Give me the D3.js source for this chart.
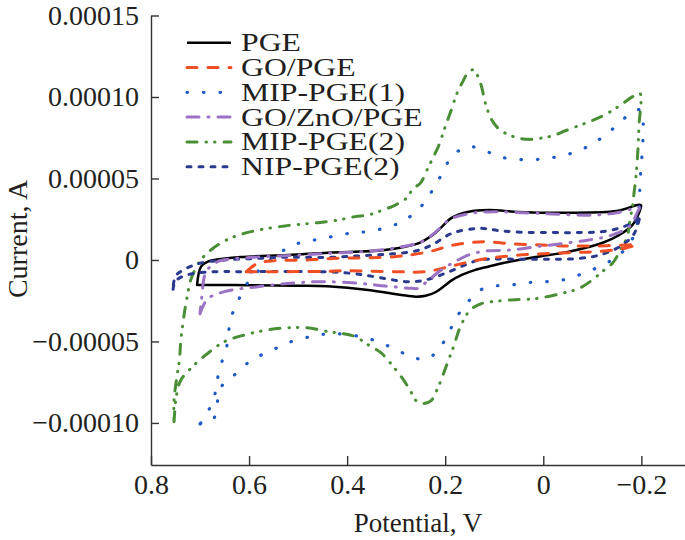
<!DOCTYPE html>
<html>
<head>
<meta charset="utf-8">
<script src="https://cdn.jsdelivr.net/npm/d3@7"></script>
<style>
  body { margin: 0; background: #fff; }
  text { font-family: "Liberation Serif", "Times New Roman", serif; fill: #231f20; }
</style>
</head>
<body>
<script>
// Data (potential in V, current in units of 1e-5 A), each loop: forward branch then back
var names = ["PGE", "GO/PGE", "MIP-PGE(1)", "GO/ZnO/PGE", "MIP-PGE(2)", "NIP-PGE(2)"];

var xTicks = [0.8, 0.6, 0.4, 0.2, 0, -0.2];
var xTickLabels = ["0.8", "0.6", "0.4", "0.2", "0", "\u22120.2"];
var yTicks = [-10, -5, 0, 5, 10, 15];
var yTickLabels = ["\u22120.00010", "\u22120.00005", "0", "0.00005", "0.00010", "0.00015"];

var pge = [
  [0.706, -1.53], [0.65, -1.54], [0.6, -1.55], [0.5, -1.58], [0.44, -1.62], [0.357, -1.84],
  [0.289, -2.15], [0.26, -2.25], [0.24, -2.2], [0.22, -1.98], [0.2, -1.55], [0.187, -1.25],
  [0.165, -0.9], [0.14, -0.62], [0.111, -0.4], [0.084, -0.2], [0.016, 0.18], [-0.052, 0.51],
  [-0.12, 1.04], [-0.155, 1.53], [-0.182, 2.15], [-0.195, 2.88], [-0.199, 3.37],
  [-0.15, 3.0], [-0.05, 2.9], [0.05, 2.95], [0.111, 3.07], [0.152, 2.96], [0.187, 2.58],
  [0.22, 1.66], [0.255, 1.02], [0.323, 0.61], [0.439, 0.45], [0.521, 0.3], [0.617, 0.18],
  [0.684, -0.1], [0.698, -0.41], [0.706, -1.53]
];

var goPge = [
  [0.606, -0.72], [0.55, -0.72], [0.45, -0.7], [0.4, -0.66], [0.3, -0.72], [0.24, -0.72],
  [0.187, -0.37], [0.132, 0], [0.07, 0.25], [0.009, 0.37], [-0.052, 0.45], [-0.107, 0.51],
  [-0.167, 0.72], [-0.19, 0.95],
  [-0.171, 0.92], [-0.107, 0.86], [-0.048, 0.86], [0.003, 0.92], [0.06, 0.98], [0.122, 1.12],
  [0.183, 0.92], [0.234, 0.5], [0.303, 0.2], [0.42, 0.1], [0.486, 0], [0.547, -0.04],
  [0.582, -0.2], [0.606, -0.72]
];

var mip1 = [
  [0.70, -10.06], [0.674, -9.82], [0.657, -7.8], [0.63, -7.06], [0.603, -6.33], [0.575, -5.83],
  [0.545, -5.42], [0.514, -5.01], [0.476, -4.71], [0.446, -4.55], [0.412, -4.54], [0.374, -4.7],
  [0.337, -5.01], [0.299, -5.52], [0.261, -6.03], [0.234, -6.03], [0.207, -5.21], [0.19, -4.29],
  [0.176, -3.48], [0.156, -2.66], [0.128, -1.84], [0.098, -1.6], [0.064, -1.53], [0.03, -1.39],
  [-0.005, -1.33], [-0.039, -1.23], [-0.073, -0.92], [-0.107, -0.51], [-0.14, 0], [-0.165, 0.6],
  [-0.185, 1.5], [-0.193, 2.5], [-0.197, 4.5], [-0.198, 9.2],
  [-0.178, 9.0], [-0.151, 8.28], [-0.124, 7.61], [-0.097, 7.06], [-0.066, 6.64], [-0.032, 6.34],
  [0.002, 6.24], [0.019, 6.13], [0.054, 6.18], [0.091, 6.34], [0.122, 6.75], [0.154, 6.95],
  [0.187, 6.34], [0.204, 5.42], [0.221, 4.54], [0.241, 3.58], [0.265, 2.82], [0.292, 2.29],
  [0.326, 1.94], [0.36, 1.74], [0.394, 1.64], [0.432, 1.43], [0.466, 1.23], [0.5, 1.02],
  [0.534, 0.51], [0.579, -0.61], [0.606, -1.53], [0.623, -2.56], [0.637, -3.58], [0.647, -5.52],
  [0.66, -6.64], [0.674, -8.69], [0.70, -10.06]
];

var goZnO = [
  [0.70, -3.3], [0.685, -2.4], [0.65, -1.94], [0.582, -1.64], [0.515, -1.43], [0.453, -1.33],
  [0.377, -1.43], [0.322, -1.6], [0.269, -1.74], [0.255, -1.74], [0.234, -1.23], [0.208, -0.61],
  [0.18, -0.1], [0.152, 0.31], [0.118, 0.55], [0.068, 0.61], [0.013, 0.82], [-0.042, 1.02],
  [-0.093, 1.23], [-0.134, 1.47], [-0.175, 2.04], [-0.193, 3.0], [-0.196, 3.2],
  [-0.15, 2.9], [-0.1, 2.75], [0.0, 2.85], [0.11, 2.95], [0.15, 2.85], [0.19, 2.5],
  [0.22, 1.7], [0.25, 1.1], [0.3, 0.75], [0.35, 0.55], [0.44, 0.4], [0.5, 0.3], [0.6, 0.15],
  [0.66, -0.05], [0.674, -0.31], [0.688, -0.72], [0.697, -2.45], [0.70, -3.3]
];

var mip2 = [
  [0.753, -9.92], [0.748, -8.3], [0.739, -7.36], [0.715, -6.54], [0.684, -5.72], [0.65, -5.01],
  [0.609, -4.6], [0.562, -4.29], [0.514, -4.15], [0.473, -4.19], [0.439, -4.4], [0.412, -4.5],
  [0.384, -4.7], [0.357, -5.21], [0.33, -5.72], [0.306, -6.54], [0.285, -7.36], [0.272, -7.98],
  [0.255, -8.75], [0.231, -8.69], [0.214, -7.77], [0.197, -6.44], [0.183, -5.32], [0.169, -4.09],
  [0.149, -3.07], [0.125, -2.66], [0.105, -2.56], [0.064, -2.45], [0.016, -2.37], [-0.039, -2.04],
  [-0.073, -1.74], [-0.1, -1.23], [-0.12, -0.72], [-0.141, -0.2], [-0.161, 0.82], [-0.171, 1.43],
  [-0.178, 2.66], [-0.182, 3.27], [-0.185, 4.09], [-0.189, 5.11], [-0.193, 6.75], [-0.195, 8.18],
  [-0.197, 10.23],
  [-0.182, 10.02], [-0.158, 9.51], [-0.131, 9.0], [-0.103, 8.59], [-0.076, 8.28], [-0.045, 7.93],
  [-0.018, 7.61], [0.006, 7.47], [0.03, 7.4], [0.057, 7.53], [0.088, 7.98], [0.105, 8.59],
  [0.118, 9.61], [0.128, 10.84], [0.142, 11.66], [0.152, 11.55], [0.166, 10.84], [0.176, 10.23],
  [0.19, 9.0], [0.2, 8.18], [0.214, 6.95], [0.224, 6.34], [0.234, 5.72], [0.251, 4.7],
  [0.265, 4.4], [0.279, 3.79], [0.302, 3.37], [0.33, 3.03], [0.357, 2.76], [0.384, 2.66],
  [0.418, 2.45], [0.459, 2.29], [0.527, 2.09], [0.596, 1.74], [0.643, 1.27], [0.678, 0.61],
  [0.701, -0.1], [0.719, -1.23], [0.725, -2.04], [0.732, -3.27], [0.739, -4.91], [0.742, -6.13],
  [0.746, -6.93], [0.753, -8.59], [0.753, -9.92]
];

var nip2 = [
  [0.755, -1.8], [0.75, -1.3], [0.73, -0.95], [0.69, -0.75], [0.6, -0.72], [0.45, -0.72],
  [0.392, -0.82], [0.345, -1.02], [0.281, -1.33], [0.255, -1.3], [0.234, -1.18], [0.2, -0.82],
  [0.16, -0.31], [0.13, 0], [0.1, 0.05], [0.05, 0.05], [0.0, 0.05], [-0.05, 0.05],
  [-0.1, 0.2], [-0.13, 0.45], [-0.16, 0.9], [-0.185, 1.6], [-0.197, 2.76],
  [-0.19, 2.45], [-0.16, 2.0], [-0.12, 1.74], [-0.07, 1.68], [-0.02, 1.68], [0.04, 1.7],
  [0.09, 1.8], [0.13, 1.94], [0.186, 1.64], [0.227, 0.92], [0.258, 0.57], [0.31, 0.37],
  [0.377, 0.25], [0.445, 0.15], [0.52, 0.17], [0.58, 0.1], [0.65, 0], [0.7, -0.2],
  [0.73, -0.55], [0.75, -1.0], [0.755, -1.8]
];

var curves = [pge, goPge, mip1, goZnO, mip2, nip2];

// Styles (round caps add about one stroke width to every dash)
var colors = ["#000000", "#f04e23", "#1f5bc4", "#9b72c4", "#4a8f35", "#2b3a8f"];
var dashes = ["none", "10,11", "0.5,16", "12,9,1,9", "10,9,0.5,8,0.5,9", "4,8"];
var widths = [2.5, 3, 3.2, 3, 3, 3];

// Dimensions
var width = 685;
var height = 540;

var x = d3.scaleLinear().domain([0.8, -0.289]).range([151, 685]);
var y = d3.scaleLinear().domain([-0.0001258, 0.00015]).range([465, 15.5]);

var svg = d3.select("body")
  .append("svg")
  .attr("width", width)
  .attr("height", height);

// Axes
var yAxis = svg.append("g")
  .attr("transform", "translate(" + x(0.8) + ",0)")
  .call(d3.axisLeft(y)
    .tickValues(yTicks.map(function (v) { return v * 1e-5; }))
    .tickFormat(function (d, i) { return yTickLabels[i]; })
    .tickSize(-8)
    .tickSizeOuter(0)
    .tickPadding(12));

var xAxis = svg.append("g")
  .attr("transform", "translate(0," + y.range()[0] + ")")
  .call(d3.axisBottom(x)
    .tickValues(xTicks)
    .tickFormat(function (d, i) { return xTickLabels[i]; })
    .tickSize(-9)
    .tickSizeOuter(0)
    .tickPadding(9));

[xAxis, yAxis].forEach(function (a) {
  a.selectAll("path, line").attr("stroke", "#333").attr("stroke-width", 1.4);
  a.selectAll("text")
    .style("font-family", "'Liberation Serif', 'Times New Roman', serif")
    .style("font-size", "28px")
    .attr("fill", "#231f20");
});

// Axis titles
svg.append("text")
  .attr("x", 418)
  .attr("y", 532)
  .attr("text-anchor", "middle")
  .style("font-size", "27px")
  .text("Potential, V");

svg.append("text")
  .attr("transform", "translate(27,239) rotate(-90)")
  .attr("text-anchor", "middle")
  .style("font-size", "28px")
  .text("Current, A");

// Curves
var line = d3.line()
  .x(function (d) { return x(d[0]); })
  .y(function (d) { return y(d[1] * 1e-5); })
  .curve(d3.curveCatmullRom.alpha(0.5));

var order = [0, 4, 2, 5, 1, 3];
order.forEach(function (i) {
  svg.append("path")
    .datum(curves[i])
    .attr("d", line)
    .attr("fill", "none")
    .attr("stroke", colors[i])
    .attr("stroke-width", widths[i])
    .attr("stroke-dasharray", dashes[i])
    .attr("stroke-linecap", "round")
    .attr("stroke-linejoin", "round");
});

// Legend
var legend = svg.append("g").attr("class", "legend");
names.forEach(function (n, i) {
  var ly = 42.7 + i * 24.8;
  legend.append("line")
    .attr("x1", 187).attr("x2", 231)
    .attr("y1", ly).attr("y2", ly)
    .attr("stroke", colors[i])
    .attr("stroke-width", widths[i])
    .attr("stroke-linecap", i === 0 ? "butt" : "round")
    .attr("stroke-dasharray", dashes[i] === "none" ? null : dashes[i]);
  legend.append("text")
    .attr("transform", "translate(241," + (ly + 8.5) + ") scale(1.27,1)")
    .style("font-size", "25px")
    .text(n);
});
</script>
</body>
</html>
